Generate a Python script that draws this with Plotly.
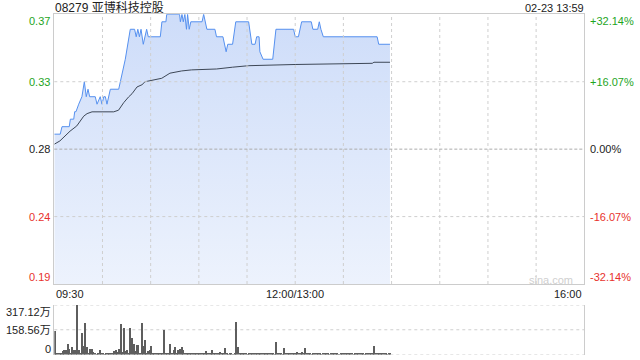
import plotly.graph_objects as go

TITLE = "08279 亚博科技控股"
STAMP = "02-23 13:59"
WATERMARK = "sina.com"
PREV_CLOSE = 0.28

# minutes since 09:30 (lunch break removed) of the price line's turning points
price_min = [0, 3.7, 4.8, 9.3, 10, 12.1, 12.7, 13.5, 15.2, 17.2, 18.7, 19.9, 21, 22,
             25.5, 26.6, 28.6, 29.7, 30.8, 31.8, 32.8, 34.9, 40.1, 43.2, 44.2, 47.3,
             50, 51, 52, 53, 54, 55.4, 56.5, 57.5, 58.5, 66, 67, 69.5, 70, 78, 78.5,
             79.5, 80.3, 81.3, 82.3, 83, 84, 85, 92, 93, 95, 100, 101, 105, 107, 108,
             111, 113, 121, 123, 125, 126, 127.5, 128, 130, 136, 138, 149, 150, 152,
             154, 160, 161, 164, 165, 166, 167.5, 201, 202, 209]
price_val = [0.29, 0.29, 0.295, 0.295, 0.30, 0.30, 0.305, 0.305, 0.31, 0.315, 0.325,
             0.315, 0.32, 0.315, 0.315, 0.31, 0.315, 0.31, 0.315, 0.315, 0.31, 0.32,
             0.32, 0.335, 0.34, 0.36, 0.36, 0.355, 0.36, 0.355, 0.36, 0.35, 0.355,
             0.36, 0.355, 0.355, 0.365, 0.365, 0.37, 0.37, 0.365, 0.37, 0.365, 0.37,
             0.36, 0.37, 0.36, 0.365, 0.365, 0.37, 0.36, 0.36, 0.355, 0.355, 0.345,
             0.35, 0.35, 0.365, 0.365, 0.35, 0.35, 0.355, 0.355, 0.345, 0.34, 0.34,
             0.36, 0.36, 0.355, 0.355, 0.365, 0.365, 0.36, 0.36, 0.365, 0.36, 0.355,
             0.355, 0.35, 0.35]

# average price line turning points
avg_min = [0, 3.5, 9.8, 14, 18.3, 20.4, 23.5, 37, 40, 43.2, 46.3, 48.4, 51.5, 54.6,
           56.5, 66.9, 72, 79.3, 85.5, 101, 111, 121, 150, 198, 199, 209]
avg_val = [0.2833, 0.2855, 0.292, 0.2955, 0.302, 0.3037, 0.3049, 0.3049, 0.306,
           0.311, 0.3149, 0.317, 0.3215, 0.323, 0.325, 0.3273, 0.3307, 0.3322,
           0.3329, 0.3335, 0.3347, 0.3357, 0.3365, 0.3373, 0.338, 0.338]

# per-minute volume (unit: 万)
volume = [150, 4, 5, 4, 6, 24, 26, 26, 67, 35, 10, 45, 26, 26, 317, 26, 8, 136, 57, 200,
          45, 5, 35, 35, 15, 4, 3, 4, 30, 8, 5, 3, 12, 4, 5, 8, 12, 25, 30, 15,
          35, 195, 15, 168, 25, 30, 10, 168, 103, 67, 25, 61, 61, 12, 200, 57, 96, 12, 25, 30,
          57, 6, 4, 8, 5, 6, 4, 8, 160, 8, 12, 5, 67, 12, 30, 45, 12, 30, 35, 45,
          30, 12, 5, 4, 8, 5, 4, 6, 5, 8, 4, 5, 6, 4, 25, 5, 12, 4, 30, 5,
          8, 4, 5, 15, 8, 4, 44, 8, 3, 4, 5, 3, 4, 210, 50, 4, 5, 6, 4, 5,
          3, 6, 4, 12, 5, 4, 6, 5, 8, 4, 12, 5, 12, 4, 12, 5, 4, 3, 82, 5,
          4, 5, 3, 40, 4, 8, 5, 8, 6, 8, 5, 15, 4, 8, 15, 5, 40, 5, 4, 6,
          3, 5, 4, 6, 5, 4, 3, 5, 6, 4, 5, 3, 4, 6, 5, 4, 5, 3, 5, 12,
          4, 4, 5, 8, 4, 5, 3, 12, 4, 5, 6, 4, 5, 3, 5, 4, 6, 5, 4, 56,
          5, 8, 4, 5, 6, 4, 5, 3, 4, 5]
vol_minutes = list(range(len(volume)))

price_ticks = [0.37, 0.325, 0.28, 0.235, 0.19]
price_labels = ["0.37", "0.33", "0.28", "0.24", "0.19"]
pct_labels = ["+32.14%", "+16.07%", "0.00%", "-16.07%", "-32.14%"]
label_colors = ["#1ea51e", "#1ea51e", "#222222", "#e8322d", "#e8322d"]
time_ticks = [0, 150, 330]
time_labels = ["09:30", "12:00/13:00", "16:00"]
grid_minutes = [30, 60, 90, 120, 150, 180, 210, 240, 270, 300]
grid_prices = [0.325, 0.235]
vol_ticks = [317.12, 158.56, 0]
vol_labels = ["317.12万", "158.56万", "0"]

W, H = 640, 360
L, R = 54.3, 584.3
FONT = "Liberation Sans, Arial, Noto Sans CJK SC, sans-serif"

fig = go.Figure()
fig.add_trace(go.Scatter(
    x=price_min, y=price_val, mode="lines", line=dict(color="#5590ef", width=1),
    fill="tozeroy",
    fillgradient=dict(type="vertical",
                      colorscale=[[0, "rgba(90,140,235,0.11)"], [1, "rgba(90,140,235,0.30)"]],
                      start=0.19, stop=0.37),
    xaxis="x", yaxis="y", hoverinfo="skip", showlegend=False))
fig.add_trace(go.Scatter(
    x=avg_min, y=avg_val, mode="lines", line=dict(color="#3d4756", width=1),
    xaxis="x", yaxis="y", hoverinfo="skip", showlegend=False))
fig.add_trace(go.Bar(
    x=vol_minutes, y=volume, width=0.62, offset=0.2,
    marker=dict(color="#5e5e5e", line=dict(width=0)),
    xaxis="x2", yaxis="y2", hoverinfo="skip", showlegend=False))

main_dom = [1 - 284 / H, 1 - 14.3 / H]
vol_dom = [1 - 354.5 / H, 1 - 305 / H]

fig.update_layout(
    width=W, height=H, margin=dict(l=0, r=0, t=0, b=0),
    paper_bgcolor="white", plot_bgcolor="white",
    font=dict(family=FONT, size=11, color="#222222"),
    bargap=0,
    xaxis=dict(domain=[L / W, R / W], range=[0, 330],
               showticklabels=False, ticks="", showgrid=False, showline=True, mirror=True,
               linecolor="#cccccc", linewidth=1, zeroline=False, fixedrange=True),
    yaxis=dict(domain=main_dom, range=[0.19, 0.37],
               showticklabels=False, ticks="", showgrid=False, showline=True, mirror=True,
               linecolor="#cccccc", linewidth=1, zeroline=False, fixedrange=True),
    xaxis2=dict(domain=[L / W, R / W], range=[0, 330], anchor="y2",
                showticklabels=False, ticks="", showgrid=False, showline=False,
                zeroline=False, fixedrange=True),
    yaxis2=dict(domain=vol_dom, range=[0, 317.12], anchor="x2",
                showticklabels=False, ticks="", showgrid=False, showline=True,
                mirror=True, linecolor="#cccccc", linewidth=1, zeroline=False,
                fixedrange=True),
)

GRID = dict(color="#cfcfcf", width=1, dash="dot")
shapes = []
for m in grid_minutes:
    shapes.append(dict(type="line", xref="x", yref="y domain", x0=m, x1=m, y0=0, y1=1,
                       line=GRID, layer="above"))
for p in grid_prices:
    shapes.append(dict(type="line", xref="x domain", yref="y", x0=0, x1=1, y0=p, y1=p,
                       line=GRID, layer="above"))
shapes.append(dict(type="line", xref="x domain", yref="y", x0=0, x1=1,
                   y0=PREV_CLOSE, y1=PREV_CLOSE,
                   line=dict(color="#ababab", width=1, dash="3px,2px"), layer="above"))
for v in vol_ticks:
    shapes.append(dict(type="line", xref="x2 domain", yref="y2", x0=0, x1=1, y0=v, y1=v,
                       line=GRID, layer="below"))
fig.update_layout(shapes=shapes)

ann = []
ann.append(dict(text=TITLE, xref="paper", yref="paper", x=53 / W, y=1 - 7.5 / H,
                xanchor="left", yanchor="middle", showarrow=False,
                font=dict(size=12, color="#222222")))
ann.append(dict(text=STAMP, xref="paper", yref="paper", x=586 / W, y=1 - 7.5 / H,
                xanchor="right", yanchor="middle", showarrow=False,
                font=dict(size=11, color="#222222")))
n = len(price_ticks)
for i, (v, lab, pct, col) in enumerate(zip(price_ticks, price_labels, pct_labels, label_colors)):
    shift = -7 if i == 0 else (7 if i == n - 1 else 0)
    ann.append(dict(text=lab, xref="paper", yref="y", x=52 / W, y=v, yshift=shift,
                    xanchor="right", yanchor="middle", showarrow=False,
                    font=dict(size=11, color=col)))
    ann.append(dict(text=pct, xref="paper", yref="y", x=587.5 / W, y=v, yshift=shift,
                    xanchor="left", yanchor="middle", showarrow=False,
                    font=dict(size=11, color=col)))
anchors = ["left", "center", "right"]
for t, lab, a in zip(time_ticks, time_labels, anchors):
    ann.append(dict(text=lab, xref="x", yref="paper", x=t, y=1 - 293.5 / H,
                    xanchor=a, yanchor="middle", showarrow=False,
                    font=dict(size=11, color="#222222")))
for i, (v, lab) in enumerate(zip(vol_ticks, vol_labels)):
    shift = -7 if i == 0 else (6 if i == len(vol_ticks) - 1 else 0)
    ann.append(dict(text=lab, xref="paper", yref="y2", x=53 / W, y=v, yshift=shift,
                    xanchor="right", yanchor="middle", showarrow=False,
                    font=dict(size=11, color="#222222")))
ann.append(dict(text=WATERMARK, xref="paper", yref="paper", x=575 / W, y=1 - 279.5 / H,
                xanchor="right", yanchor="middle", showarrow=False,
                font=dict(size=11, color="#cfcfcf")))
fig.update_layout(annotations=ann)

fig.write_html("out.html")
